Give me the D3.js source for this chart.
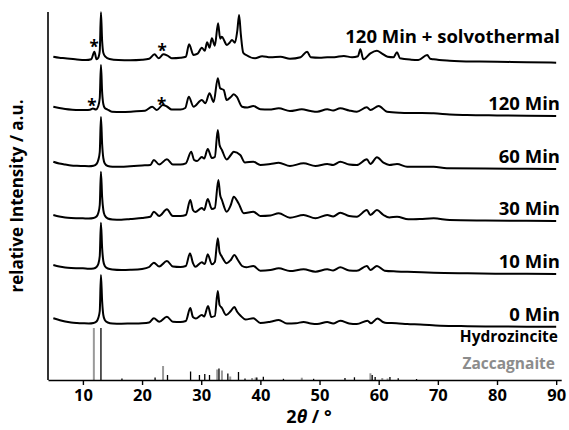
<!DOCTYPE html>
<html>
<head>
<meta charset="utf-8">
<script src="https://cdn.jsdelivr.net/npm/d3@7"></script>
<style>
  body { margin: 0; background: #fff; }
  svg text { font-family: "Open Sans", "Liberation Sans", sans-serif; font-weight: 700; }
</style>
</head>
<body>
<svg id="chart" width="569" height="430"></svg>
<script>
// XRD patterns, [2theta, intensity above own baseline], stacked with offsets
var names = ["0 Min", "10 Min", "30 Min", "60 Min", "120 Min", "120 Min + solvothermal"]
var offsets = [53, 106, 159, 211, 264, 317.3]

var pat0 = [[5,8.7],[6,7],[7,5.5],[8,4.5],[9,4],[10,3.7],[11,3.5],[11.8,4],[12.3,5.5],[12.6,9],[12.85,16],[13.05,52],[13.25,26],[13.45,12],[13.7,7],[14.2,4.5],[15,3.5],[16.5,3.3],[18,3.5],[20,3.8],[21.2,4.5],[22,8.7],[22.9,5.2],[24.2,10.3],[25.2,5.2],[26.5,5],[27.4,6],[28.15,19],[28.6,10],[29.1,8.5],[30.1,12],[30.5,10.5],[31.15,21],[31.7,10],[32.3,11],[32.8,36],[33.1,22],[33.5,19],[34.2,12],[35,16],[35.6,20],[36.1,15],[36.7,11],[37.5,7.5],[38.8,8.7],[40,4],[41.7,5.3],[43.1,7],[44.5,3.5],[46,3.8],[47.3,5],[48.5,3.6],[49.6,3],[51.3,5],[52.3,3.5],[53.5,6.3],[55,3.6],[56.3,3],[58.1,6.3],[58.7,3.7],[59.8,8.5],[60.7,5],[61.4,4],[63,3.8],[64.8,3],[67,2.5],[70.4,1.3],[75,0.8],[80,0.5],[85,0.3],[90,0.3]]

var pat10 = [[5,9],[6,7.5],[7,6.5],[8,6],[9,5.8],[10,5.7],[11,5.2],[11.8,5.5],[12.3,7],[12.6,10],[12.85,18],[13.05,51.3],[13.25,26],[13.45,13],[13.7,8],[14.2,5.5],[15,4.5],[16.5,4],[18,4.2],[20,5],[21.2,7],[22,11.3],[22.9,7.5],[24.2,13],[25.2,7.5],[26.5,7],[27.4,8],[28.1,20.7],[28.6,11],[29,7.3],[30.1,11.7],[30.6,10],[31.1,19.7],[31.8,9.7],[32.3,12],[32.8,35.7],[33.1,22],[33.5,17.3],[34.3,10.7],[35,14],[35.6,19],[36.2,14],[36.9,8],[37.6,6.7],[38.8,8],[40,3.3],[41.7,4],[43.1,5.7],[45,3],[47.3,4.7],[49.3,2.3],[51.3,4.7],[52.3,3.5],[53.5,6.7],[55,3.5],[56.3,3.3],[58,8],[58.6,4],[59.7,8],[61,3.3],[63,2.5],[66,2],[69.3,1.3],[75,0.7],[80,0.3],[85,0.2],[90,0]]

var pat30 = [[5,6],[6,4.5],[7,3.5],[8,3],[9,2.8],[10,2.7],[11,2.5],[11.8,3],[12.3,4.5],[12.6,8],[12.85,16],[13.05,49.3],[13.25,24],[13.45,11],[13.7,5.5],[14.2,2.5],[15,1.5],[16.5,1.2],[18,2],[20,3],[21.4,4.3],[22,9.3],[22.9,5],[24.2,11.7],[25.2,5],[26.5,5],[27.4,6],[28.15,21],[28.6,11],[29,9],[30.1,13],[30.5,11],[31.1,22],[31.8,12],[32.3,13],[32.9,41],[33.2,26],[33.5,21],[34.3,9.3],[35,16],[35.5,24.3],[36.3,17.7],[37.2,7.7],[38.8,9.3],[40,5],[41.7,5.5],[43.1,7.7],[45,3.3],[47.3,6],[49.3,2.7],[51.3,6],[52.3,4.5],[53.5,8.3],[55,5],[56.3,4.3],[58,11],[58.6,6],[59.7,11],[60.8,6],[61.8,3.5],[63.1,4.3],[65,1.7],[67,2],[69.3,2.7],[72,1],[78,0.5],[85,0.2],[90,0]]

var pat60 = [[5,7.3],[6,5.5],[7,4.5],[8,3.6],[9,3.2],[10,3],[11,2.8],[11.8,3.3],[12.3,5],[12.6,9],[12.85,17],[13.05,52],[13.25,25],[13.45,11],[13.7,5.5],[14.2,3],[15,2.3],[16.5,2.2],[18,2.8],[20,3.5],[21.4,4],[22,9],[22.9,4.5],[24.2,9.7],[25.2,4.5],[26.5,4.5],[27.4,5.7],[28.3,17.3],[28.8,9],[29.3,8],[30.1,12],[30.5,10.5],[31.1,20],[31.8,11],[32.3,12],[32.8,39],[33.1,24],[33.5,19],[34.3,9.5],[35,14],[35.5,17.3],[36.6,14],[37.4,6.5],[38.8,7.3],[40,4],[41.7,5],[43.1,6.3],[45,3],[47.3,5.7],[49.3,3],[51.3,5],[52.3,4],[53.5,7.3],[55,4.5],[56.3,4],[58,9.7],[58.6,5],[59.7,11.7],[60.8,6.3],[61.8,4],[63.1,5],[64.8,2.3],[67,2.3],[69.3,2.3],[71.5,0.7],[78,0.4],[85,0.2],[90,0]]

var pat120 = [[5,9.3],[6,8],[7,7],[8.2,6.3],[9.3,6],[10.5,6],[11.2,6.2],[11.7,7.5],[12.2,6.5],[12.6,10],[12.85,18],[13.05,51],[13.25,24],[13.45,12],[13.7,8],[14.1,6.7],[14.9,4.3],[16.5,4],[18.5,4.5],[20.5,5.3],[21.7,9.3],[22.5,6],[23.5,11],[24.2,9.5],[25,6.5],[26.5,6.5],[27.3,8],[27.9,19.3],[28.7,9.3],[30.1,16],[30.7,12.7],[31.4,22.7],[32.1,14],[32.8,37.7],[33.2,27.7],[33.8,26],[34.3,16],[35,19],[35.5,21.7],[36,19.3],[36.9,9.3],[37.8,8.5],[38.8,10],[40,6.7],[41.5,6.5],[43.1,7.7],[45,5],[47,6.7],[48.5,5],[49.6,4.3],[51.3,6.7],[52.3,5.5],[53.5,7.7],[55,5.5],[56.3,4.3],[58,8.7],[58.6,6],[60,10],[61.4,4.3],[63.6,3.3],[66,3],[69.3,2.7],[72,1.5],[74.9,1],[80,0.6],[85,0.3],[90,0]]

var patSolvo = [[5,6],[6,5],[7,4.5],[8.7,3.4],[10.5,2.7],[11.4,3.5],[11.95,11],[12.3,3.5],[12.6,5],[12.85,12],[13.05,50.4],[13.25,22],[13.45,10],[13.8,6],[14.5,3.7],[16,2.7],[18,2.5],[20,3],[21.2,4],[22.1,8.4],[22.8,4.4],[23.6,8.4],[24.3,7],[25,4.5],[26.5,5],[27.4,6],[27.95,18.4],[28.7,7.7],[29.4,9],[30.1,15],[30.6,12],[31,20.4],[31.4,15],[31.8,24.4],[32.3,17],[32.85,39.4],[33.2,24],[33.5,26],[33.9,22],[34.3,17.7],[34.8,20],[35.2,22.7],[35.7,20],[36.1,32],[36.4,47.7],[36.7,28],[37.1,10],[37.6,7.7],[39.1,4.4],[40.3,6.5],[41.7,5.4],[43.4,6],[45,4],[46.8,5.5],[47.9,11],[48.5,5.5],[50,5],[51.3,5.4],[52.5,5.5],[54.1,6.7],[55.5,5.4],[56.5,6.5],[56.9,13.4],[57.4,3.4],[58.6,9.4],[59.7,12],[60.5,9.4],[61.5,6],[62.5,5.5],[63.1,10.4],[63.6,4.4],[65.5,3],[66.7,2.7],[68.2,7.7],[68.7,4],[69.3,3.4],[72,2],[76,1.2],[80,1],[85,0.5],[90,0]]

var patterns = [pat0, pat10, pat30, pat60, pat120, patSolvo]

// reference sticks [2theta, height]
var hydrozincite = [[13.05,52],[16.6,1.5],[22.2,2.5],[24.3,5],[28.2,8.5],[29.7,5],[30.6,6],[31.4,5],[33.0,11.5],[34.5,6.5],[36.3,8],[37.4,1.5],[39.4,2.5],[40.5,3.3],[43.9,1.2],[49.0,1.2],[54.3,2],[55.9,2.7],[58.9,5],[59.4,3],[61.9,3],[63.3,1.7],[66.4,1]]
var zaccagnaite = [[11.85,52],[23.55,14],[32.7,10.5],[33.5,9.5],[34.9,3.5],[38.6,2],[39.2,2.5],[47.0,2.3],[58.6,6.7],[60.6,2],[61.5,1.5]]

// asterisks: [pattern index, 2theta, height of mark centre above baseline]
var stars = [[5,11.9,18.4],[5,23.4,15],[4,11.5,12.7],[4,23.3,14.3]]

var xTicks = [10,20,30,40,50,60,70,80,90]

var svg = d3.select("#chart")
var x = d3.scaleLinear().domain([4.1, 90.85]).range([48, 561.2])
var y = d3.scaleLinear().domain([0, 368]).range([380, 12])

// reference sticks
svg.append("g").selectAll("line.zac")
  .data(zaccagnaite).enter().append("line")
  .attr("x1", d => x(d[0])).attr("x2", d => x(d[0]))
  .attr("y1", y(0)).attr("y2", d => y(d[1]))
  .attr("stroke", "#999").attr("stroke-width", 2)
svg.append("g").selectAll("line.hz")
  .data(hydrozincite).enter().append("line")
  .attr("x1", d => x(d[0])).attr("x2", d => x(d[0]))
  .attr("y1", y(0)).attr("y2", d => y(d[1]))
  .attr("stroke", "#000").attr("stroke-width", 1.3)

// patterns
patterns.forEach(function(p, i){
  var line = d3.line()
    .x(d => x(d[0]))
    .y(d => y(d[1] + offsets[i]))
    .curve(d3.curveMonotoneX)
  svg.append("path")
    .datum(p)
    .attr("d", line)
    .attr("fill", "none")
    .attr("stroke", "#000")
    .attr("stroke-width", 2)
    .attr("stroke-linejoin", "round")
})

// labels
svg.selectAll("text.name")
  .data(names).enter().append("text")
  .attr("x", 560)
  .attr("y", (d, i) => y(offsets[i] + (i == 5 ? 19.7 : 6.5)))
  .attr("text-anchor", "end")
  .style("font-size", "18.5px")
  .text(d => d)

svg.append("text").attr("x", 558).attr("y", y(37.7))
  .attr("text-anchor", "end").style("font-size", "15.5px").text("Hydrozincite")
svg.append("text").attr("x", 555).attr("y", y(11))
  .attr("text-anchor", "end").style("font-size", "15.5px").attr("fill", "#8c8c8c").text("Zaccagnaite")

svg.selectAll("text.star")
  .data(stars).enter().append("text")
  .attr("x", d => x(d[1]))
  .attr("y", d => y(offsets[d[0]] + d[2]) + 9)
  .attr("text-anchor", "middle")
  .style("font-size", "17px")
  .text("*")

// axes
var xAxis = d3.axisBottom(x).tickValues(xTicks).tickSize(5).tickSizeOuter(0).tickPadding(4)
var gx = svg.append("g").attr("transform", "translate(0,380)").call(xAxis)
gx.select(".domain").attr("stroke-width", 1.6)
gx.selectAll(".tick line").attr("stroke-width", 1.4)
gx.selectAll(".tick text").style("font-size", "16.5px").attr("fill", "#000")
  .style("font-family", "'Open Sans', sans-serif").style("font-weight", 700)

svg.append("line").attr("x1", 48).attr("x2", 48).attr("y1", 12).attr("y2", 380)
  .attr("stroke", "#000").attr("stroke-width", 1.6)

svg.append("text")
  .attr("transform", "translate(23,196) rotate(-90)")
  .attr("text-anchor", "middle")
  .style("font-size", "17px")
  .text("relative Intensity / a.u.")

var xl = svg.append("text").attr("x", 309).attr("y", 423)
  .attr("text-anchor", "middle").style("font-size", "18px")
xl.append("tspan").text("2")
xl.append("tspan").style("font-style", "italic").text("θ")
xl.append("tspan").text(" / °")
</script>
</body>
</html>
